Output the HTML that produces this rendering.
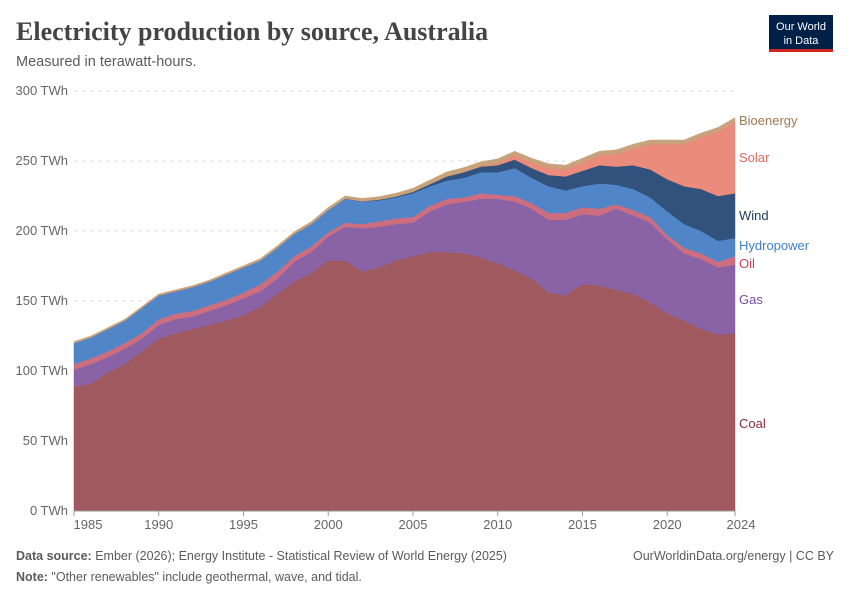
<!DOCTYPE html>
<html><head><meta charset="utf-8"><style>
body{margin:0;background:#fff;font-family:"Liberation Sans",sans-serif;}
#wrap{position:relative;width:850px;height:600px;overflow:hidden;}
</style></head><body>
<div id="wrap">
<svg id="svg" width="850" height="600" xmlns="http://www.w3.org/2000/svg">
<text x="16" y="40" font-family="Liberation Serif,serif" font-size="26" font-weight="bold" fill="#444">Electricity production by source, Australia</text>
<text x="16" y="66" font-size="14.5" fill="#5b5b5b">Measured in terawatt-hours.</text>
<g><rect x="769" y="15" width="64" height="37" fill="#002147"/><rect x="769" y="49" width="64" height="3" fill="#ce261e"/>
<text x="801" y="30" text-anchor="middle" font-size="11" fill="#fff">Our World</text><text x="801" y="44" text-anchor="middle" font-size="11" fill="#fff">in Data</text></g>
<g id="grid"></g><g id="areas"></g><g id="axes"></g><g id="labels"></g>
<text x="16" y="560" font-size="12.5" fill="#5b5b5b"><tspan font-weight="bold">Data source:</tspan> Ember (2026); Energy Institute - Statistical Review of World Energy (2025)</text>
<text x="834" y="560" text-anchor="end" font-size="12.5" fill="#5b5b5b">OurWorldinData.org/energy | CC BY</text>
<text x="16" y="581" font-size="12.5" fill="#5b5b5b"><tspan font-weight="bold">Note:</tspan> "Other renewables" include geothermal, wave, and tidal.</text>
</svg></div>
<script>
const years=[];for(let y=1985;y<=2024;y++)years.push(y);
const coal=[89,91,99,105,114,123,127,130,133,136,140,146,155,164,170,179,179,171,174,179,182,185,185,184,181,177,172,166,156,154,162,161,158,155,149,141,136,130,126,127];
const gas=[12,14,11,11,9,10,10,9,10,11,12,11,11,14,15,17,24,31,29,26,24,29,34,37,42,46,49,50,52,54,50,50,58,56,57,53,48,50,48,49];
const oil=[4,4,4,4,4,4,4,4,4,4,4,5,5,4,4,3,3,3,4,4,4,4,4,3,4,3,4,4,5,5,5,5,3,4,4,3,4,4,4,6];
const hydro=[15,15,16,16,18,17,16,17,17,18,18,17,17,16,16,16,17,16,15,15,17,14,13,14,15,16,20,18,19,16,15,18,14,15,14,17,17,16,15,13];
const wind=[0,0,0,0,0,0,0,0,0,0,0,0,0,0,0,0,0.2,0.3,0.5,0.7,1,1.5,3,4,4,5,6,7,8,10,11,13,13,17,20,23,27,30,32,32];
const solar=[0,0,0,0,0,0,0,0,0,0,0,0,0,0,0,0,0,0,0,0,0,0.1,0.2,0.3,0.5,1.5,3,4,5,5,6,7,9,12,18,25,30,37,46,51];
const bio=[1,1,1,1,1,1,1,1,1,1.2,1.2,1.3,1.5,1.5,1.7,1.8,1.8,2,2,2.3,2.5,2.8,3,3,3,3,3,3,3,3,3,3,3,3,3,3,3,3,3,3];
const yTicks=[0,50,100,150,200,250,300];
const xTicks=[1985,1990,1995,2000,2005,2010,2015,2020,2024];
const series=[["Coal",coal,"#a0595e","#8c2a38"],["Gas",gas,"#8963a5","#7d4c9e"],["Oil",oil,"#cd6e80","#c8435a"],["Hydropower",hydro,"#5086c8","#3f7fcf"],["Wind",wind,"#31527c","#1f3c63"],["Solar",solar,"#ea8b7b","#e0655a"],["Bioenergy",bio,"#c8a27a","#a2784f"]];
const X0=74,X1=735,Y0=511,Y1=91;
const xs=y=>X0+(y-1985)/(2024-1985)*(X1-X0);
const ys=v=>Y0-v/300*(Y0-Y1);
const NS="http://www.w3.org/2000/svg";
function mk(t,a,p){const e=document.createElementNS(NS,t);for(const k in a)e.setAttribute(k,a[k]);p.appendChild(e);return e;}
const grid=document.getElementById('grid'),axes=document.getElementById('axes'),areas=document.getElementById('areas'),labels=document.getElementById('labels');
yTicks.forEach(v=>{
 if(v>0){const l=mk('line',{x1:74,x2:X1,y1:ys(v),y2:ys(v),stroke:'#ddd','stroke-dasharray':'4,4'},grid);
 
 }
 const t=mk('text',{x:68,y:ys(v)+4,'text-anchor':'end','font-size':'13',fill:'#666'},axes);t.textContent=v+' TWh';
 
 
});
xTicks.forEach(y=>{
 const l=mk('line',{x1:xs(y),x2:xs(y),y1:Y0,y2:Y0+5,stroke:'#999'},axes);
 
 
 const t=mk('text',{x:xs(y)+(y==1985?14:y==2024?6:0),y:529,'text-anchor':'middle','font-size':'13',fill:'#666'},axes);t.textContent=y;
 
 
});
let base=years.map(()=>0);
series.forEach(([name,vals,col,lc])=>{
 const top=base.map((b,i)=>b+vals[i]);
 let d='M'+years.map((y,i)=>xs(y)+','+ys(top[i])).join('L');
 for(let i=years.length-1;i>=0;i--)d+='L'+xs(years[i])+','+ys(base[i]);
 const p=mk('path',{d:d+'Z',fill:col,stroke:col,'stroke-width':'0.5'},areas);
 
 
 base=top;
});
const lx=739;
[["Bioenergy",120,"#a2784f"],["Solar",157,"#e0655a"],["Wind",215,"#1f3c63"],["Hydropower",245,"#3f7fcf"],["Oil",263,"#c8435a"],["Gas",299,"#7d4c9e"],["Coal",423,"#8c2a38"]].forEach(([n,y,c])=>{
 const t=mk('text',{x:lx,y:y+5,'font-size':'13',fill:c},labels);t.textContent=n;
 
 
});
const ax=mk('line',{x1:X0,x2:X1,y1:Y0,y2:Y0,stroke:'#999'},axes);


</script></body></html>
